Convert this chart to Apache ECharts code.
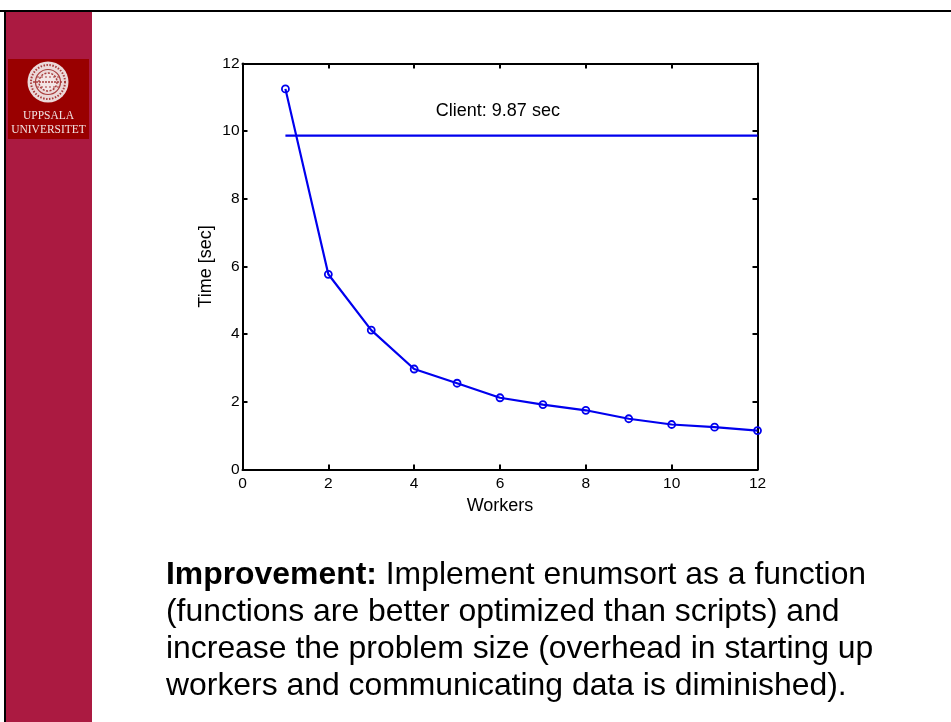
<!DOCTYPE html>
<html><head><meta charset="utf-8">
<style>html,body{margin:0;padding:0;background:#fff}#c{width:951px;height:722px}</style>
<script src="https://cdn.jsdelivr.net/npm/echarts@6/dist/echarts.min.js"></script>
</head><body><div id="c"></div>
<script>
const workers = [1,2,3,4,5,6,7,8,9,10,11,12];
const times = [11.25,5.77,4.12,2.97,2.55,2.12,1.92,1.75,1.5,1.33,1.25,1.15];
const clientX = [1,12];
const clientTime = 9.87;
const clientLabel = 'Client: 9.87 sec';
const xTitle = 'Workers';
const yTitle = 'Time [sec]';
const logoLines = ['UPPSALA','UNIVERSITET'];
const bodyLines = [
  ['Improvement:',' Implement enumsort as a function'],
  ['','(functions are better optimized than scripts) and'],
  ['','increase the problem size (overhead in starting up'],
  ['','workers and communicating data is diminished).']
];
const font = '"Liberation Sans", Arial, sans-serif';
const axisCommon = {min:0,max:12,interval:2,
  axisLine:{show:true,onZero:false,lineStyle:{color:'#000',width:2}},
  axisTick:{show:true,inside:true,length:5,lineStyle:{color:'#000',width:2}},
  splitLine:{show:false}};
const tickStyle = {color:'#000',fontFamily:font,fontSize:15.5};
const titleStyle = {color:'#000',fontFamily:font,fontSize:18};
const sealInk = '#a83c3c';
const seal = [
  {type:'circle',z:3,silent:true,shape:{cx:48,cy:82,r:20.5},style:{fill:'#ecd9d9'}},
  {type:'circle',z:3,silent:true,shape:{cx:48,cy:82,r:17},style:{fill:'none',stroke:sealInk,lineWidth:2,lineDash:[1.5,1.5]}},
  {type:'circle',z:3,silent:true,shape:{cx:48,cy:82,r:12.5},style:{fill:'none',stroke:sealInk,lineWidth:1.2}},
  {type:'circle',z:3,silent:true,shape:{cx:48,cy:82,r:9},style:{fill:'#f3e6e6',stroke:sealInk,lineWidth:1.5,lineDash:[2,1.5]}},
  {type:'line',z:3,silent:true,shape:{x1:33,y1:82,x2:63,y2:82},style:{stroke:sealInk,lineWidth:1.5,lineDash:[2,1]}},
  {type:'line',z:3,silent:true,shape:{x1:37,y1:77,x2:59,y2:77},style:{stroke:sealInk,lineWidth:1,lineDash:[2,2]}},
  {type:'line',z:3,silent:true,shape:{x1:37,y1:87,x2:59,y2:87},style:{stroke:sealInk,lineWidth:1,lineDash:[2,2]}}
];
const chart = echarts.init(document.getElementById('c'),null,{renderer:'canvas'});
chart.setOption({
  backgroundColor:'#fff',
  animation:false,
  grid:{left:242.5,top:63.5,width:515,height:406,containLabel:false},
  xAxis:[
    Object.assign({},axisCommon,{type:'value',position:'bottom',name:xTitle,nameLocation:'middle',nameGap:28,
      nameTextStyle:titleStyle,axisLabel:Object.assign({margin:6},tickStyle,{showMinLabel:true,showMaxLabel:true})}),
    Object.assign({},axisCommon,{type:'value',position:'top',axisLabel:{show:false}})
  ],
  yAxis:[
    Object.assign({},axisCommon,{type:'value',position:'left',name:yTitle,nameLocation:'middle',nameGap:27,nameMoveOverlap:false,
      nameTextStyle:titleStyle,axisLabel:Object.assign({margin:3,padding:[3,0,0,0]},tickStyle)}),
    Object.assign({},axisCommon,{type:'value',position:'right',axisLabel:{show:false}})
  ],
  series:[
    {type:'line',name:'Workers',data:workers.map((w,i)=>[w,times[i]]),clip:false,z:5,
     symbol:'circle',symbolSize:7,showSymbol:true,
     itemStyle:{color:'rgba(0,0,255,0)',borderColor:'#0000ee',borderWidth:1.8,opacity:1},
     lineStyle:{color:'#0000ee',width:2.2}},
    {type:'line',name:'Client',data:clientX.map(x=>[x,clientTime]),clip:false,z:5,symbol:'none',
     lineStyle:{color:'#0000ee',width:2.2},
     markPoint:{silent:true,symbol:'circle',symbolSize:0,
       label:{show:true,position:'inside',formatter:clientLabel,color:'#000',fontFamily:font,fontSize:18},
       data:[{coord:[5.95,10.6]}]}}
  ],
  graphic:[
    {type:'rect',z:10,silent:true,shape:{x:0,y:10,width:951,height:2},style:{fill:'#000'}},
    {type:'rect',z:10,silent:true,shape:{x:4,y:10,width:2,height:712},style:{fill:'#000'}},
    {type:'rect',z:1,silent:true,shape:{x:6,y:12,width:86,height:710},style:{fill:'#ab1a41'}},
    {type:'rect',z:2,silent:true,shape:{x:8,y:59,width:81,height:80},style:{fill:'#990000'}},
    {type:'group',children:seal},
    {type:'text',z:3,silent:true,style:{x:48.5,y:115.5,text:logoLines[0],align:'center',verticalAlign:'middle',fill:'#f2e4e4',font:'11.5px "Liberation Serif", serif'}},
    {type:'text',z:3,silent:true,style:{x:48.5,y:129.5,text:logoLines[1],align:'center',verticalAlign:'middle',fill:'#f2e4e4',font:'11.5px "Liberation Serif", serif'}},
    {type:'text',z:4,silent:true,style:{x:166,y:557,
      text:bodyLines.map(l=>(l[0]?'{b|'+l[0]+'}':'')+'{r|'+l[1]+'}').join('\n'),
      rich:{b:{font:'bold 31.9px '+font,fill:'#000',lineHeight:37},r:{font:'31.9px '+font,fill:'#000',lineHeight:37}},
      verticalAlign:'top',align:'left'}}
  ]
});
</script></body></html>
